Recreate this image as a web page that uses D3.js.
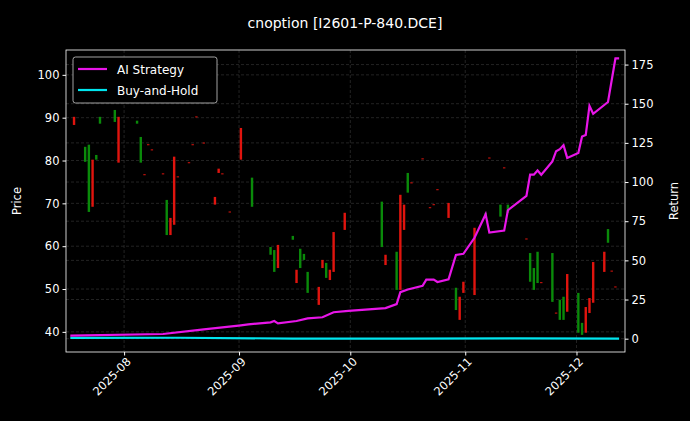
<!DOCTYPE html><html><head><meta charset="utf-8">
<script src="https://cdn.jsdelivr.net/npm/d3@7"></script>
<style>body{margin:0;background:#000}svg{font-family:"DejaVu Sans",sans-serif}</style></head><body>
<script>
// candles: date, open, close
const candleDates=["2025-07-18","2025-07-21","2025-07-22","2025-07-23","2025-07-24","2025-07-25","2025-07-29","2025-07-30","2025-08-04","2025-08-05","2025-08-06","2025-08-07","2025-08-08","2025-08-11","2025-08-12","2025-08-13","2025-08-14","2025-08-15","2025-08-18","2025-08-19","2025-08-20","2025-08-22","2025-08-25","2025-08-26","2025-08-27","2025-08-29","2025-09-01","2025-09-04","2025-09-09","2025-09-10","2025-09-11","2025-09-15","2025-09-16","2025-09-17","2025-09-18","2025-09-19","2025-09-22","2025-09-23","2025-09-24","2025-09-25","2025-09-26","2025-09-29","2025-10-09","2025-10-10","2025-10-13","2025-10-14","2025-10-15","2025-10-16","2025-10-17","2025-10-20","2025-10-22","2025-10-23","2025-10-24","2025-10-27","2025-10-29","2025-10-30","2025-10-31","2025-11-03","2025-11-06","2025-11-07","2025-11-10","2025-11-11","2025-11-12","2025-11-17","2025-11-18","2025-11-19","2025-11-20","2025-11-21","2025-11-24","2025-11-25","2025-11-26","2025-11-27","2025-11-28","2025-12-01","2025-12-02","2025-12-03","2025-12-04","2025-12-05","2025-12-08","2025-12-09","2025-12-10","2025-12-11"];
const candleOpen=[90.2,79.7,68.0,80.2,80.2,88.6,89.0,90.2,88.6,79.5,76.8,83.8,82.6,77.0,62.6,66.6,80.9,76.3,79.6,83.8,90.3,84.2,71.5,78.1,77.0,68.1,87.6,69.2,58.0,54.0,60.3,61.5,54.5,54.9,56.8,49.1,50.5,56.8,52.6,54.5,63.3,67.8,59.8,58.0,49.8,72.0,69.7,72.5,74.9,80.5,69.1,69.8,73.3,70.1,45.1,48.2,51.7,64.3,66.9,80.7,66.9,78.4,67.8,61.8,51.7,49.8,51.4,51.6,47.0,44.5,42.8,42.8,53.5,39.8,39.3,45.8,47.9,56.3,58.7,60.8,54.3,50.6];
const candleClose=[88.3,83.2,83.7,69.2,81.3,90.2,91.8,79.5,89.3,85.5,76.6,83.6,82.4,76.8,70.8,62.6,65.0,76.1,79.4,83.6,90.1,84.0,69.7,77.1,76.8,67.9,80.2,76.0,59.8,59.1,54.9,62.4,51.4,59.4,58.2,54.0,46.3,54.9,56.1,52.1,54.0,63.8,70.4,55.6,58.7,49.8,63.8,77.1,74.7,80.3,68.9,69.6,73.1,66.6,50.3,42.8,49.1,48.6,67.8,80.5,69.7,78.2,69.7,61.6,58.4,54.9,58.7,51.4,58.4,44.3,47.5,48.2,44.7,49.1,42.1,39.8,44.4,46.8,54.0,64.0,54.1,50.4];
// strategy return (%)
const stratDates=["2025-07-17","2025-08-11","2025-08-22","2025-09-01","2025-09-03","2025-09-09","2025-09-10","2025-09-11","2025-09-16","2025-09-19","2025-09-23","2025-09-26","2025-09-30","2025-10-10","2025-10-13","2025-10-14","2025-10-16","2025-10-20","2025-10-21","2025-10-23","2025-10-24","2025-10-27","2025-10-29","2025-10-31","2025-11-03","2025-11-06","2025-11-07","2025-11-11","2025-11-12","2025-11-17","2025-11-18","2025-11-19","2025-11-20","2025-11-21","2025-11-24","2025-11-25","2025-11-26","2025-11-27","2025-11-28","2025-12-01","2025-12-02","2025-12-03","2025-12-04","2025-12-05","2025-12-09","2025-12-11","2025-12-12"];
const stratValues=[2,3,5.9,8.5,9.1,10.4,11.3,9.8,11.3,13,13.7,16.9,17.8,19.5,22.1,29.7,31.4,33.8,37.7,37.7,36.2,37.9,53.5,54.2,64.4,79.4,67.7,69,82,91.1,104.7,104.7,107.4,104.7,113.2,119.7,121,123.6,115.4,118.6,129,130.1,148.6,143.6,151.1,178.9,178.9];
const bhDates=["2025-07-17","2025-08-15","2025-09-15","2025-10-15","2025-11-15","2025-12-12"];
const bhValues=[0.5,0.6,0.1,0,0.2,0];
const leftTicks=[40,50,60,70,80,90,100];
const rightTicks=[0,25,50,75,100,125,150,175];

const W=690,H=421,m={l:66,r:65,t:50,b:69};
const p=d3.timeParse("%Y-%m-%d");
const svg=d3.select("body").append("svg").attr("width",W).attr("height",H).style("background","#000");
const x=d3.scaleTime().domain([new Date(2025,6,16,8),new Date(2025,11,14,2)]).range([m.l,W-m.r]);
const y=d3.scaleLinear().domain([35.3,105.8]).range([H-m.b,m.t]);
const y2=d3.scaleLinear().domain([-8.5,184.3]).range([H-m.b,m.t]);
const g=svg.append("g");
const gs={stroke:"#3a3a3a",dash:"3,2",w:0.6};
leftTicks.forEach(t=>g.append("line").attr("x1",m.l).attr("x2",W-m.r).attr("y1",y(t)).attr("y2",y(t)).attr("stroke",gs.stroke).attr("stroke-dasharray",gs.dash).attr("stroke-width",gs.w));
rightTicks.forEach(t=>g.append("line").attr("x1",m.l).attr("x2",W-m.r).attr("y1",y2(t)).attr("y2",y2(t)).attr("stroke",gs.stroke).attr("stroke-dasharray",gs.dash).attr("stroke-width",gs.w));
const months=[new Date(2025,7,1),new Date(2025,8,1),new Date(2025,9,1),new Date(2025,10,1),new Date(2025,11,1)];
months.forEach(t=>g.append("line").attr("x1",x(t)).attr("x2",x(t)).attr("y1",m.t).attr("y2",H-m.b).attr("stroke",gs.stroke).attr("stroke-dasharray",gs.dash).attr("stroke-width",gs.w));
candleDates.forEach((d,i)=>{const o=candleOpen[i],c=candleClose[i];const t=p(d);t.setHours(12);
 const top=y(Math.max(o,c)),h=Math.max(1,Math.abs(y(o)-y(c)));
 g.append("rect").attr("x",x(t)-1.2).attr("width",2.4).attr("y",top).attr("height",h).attr("fill",c>o?"#0a8a0a":"#e0140e");});
const ls=d3.line().x(d=>x(d[0])).y(d=>y2(d[1]));
const sd=stratDates.map((d,i)=>{const t=p(d);t.setHours(12);return [t,stratValues[i]]});
const bd=bhDates.map((d,i)=>{const t=p(d);t.setHours(12);return [t,bhValues[i]]});
g.append("path").attr("d",ls(bd)).attr("fill","none").attr("stroke","#00e5ee").attr("stroke-width",2.2);
g.append("path").attr("d",ls(sd)).attr("fill","none").attr("stroke","#e815e8").attr("stroke-width",2.2);
svg.append("rect").attr("x",m.l).attr("y",m.t).attr("width",W-m.l-m.r).attr("height",H-m.t-m.b).attr("fill","none").attr("stroke","#fff").attr("stroke-width",0.8);
const ax=svg.append("g").attr("transform",`translate(0,${H-m.b})`).call(d3.axisBottom(x).tickValues(months).tickFormat(d3.timeFormat("%Y-%m")).tickSize(3.5));
const al=svg.append("g").attr("transform",`translate(${m.l},0)`).call(d3.axisLeft(y).tickValues(leftTicks).tickSize(3.5));
const ar=svg.append("g").attr("transform",`translate(${W-m.r},0)`).call(d3.axisRight(y2).tickValues(rightTicks).tickSize(3.5));
[ax,al,ar].forEach(a=>{a.select(".domain").remove();a.selectAll("line").attr("stroke","#fff");a.selectAll("text").attr("fill","#fff").style("font-size","11.5px").style("font-family","DejaVu Sans");});
ax.selectAll("text").attr("transform","rotate(-45)").style("text-anchor","end").attr("dx","-0.2em").attr("dy","0.5em");
svg.append("text").attr("x",345).attr("y",28).attr("text-anchor","middle").attr("fill","#fff").style("font-size","14px").text("cnoption [I2601-P-840.DCE]");
svg.append("text").attr("transform",`translate(21,${(m.t+H-m.b)/2}) rotate(-90)`).attr("text-anchor","middle").attr("fill","#fff").style("font-size","11.5px").text("Price");
svg.append("text").attr("transform",`translate(678,${(m.t+H-m.b)/2}) rotate(-90)`).attr("text-anchor","middle").attr("fill","#fff").style("font-size","11.5px").text("Return");
const lg=svg.append("g");
lg.append("rect").attr("x",73).attr("y",57).attr("width",144).attr("height",46).attr("rx",2.5).attr("fill","#000").attr("stroke","#ccc").attr("stroke-width",0.8);
[["AI Strategy","#e815e8"],["Buy-and-Hold","#00e5ee"]].forEach((e,i)=>{const yy=69+i*21;
 lg.append("line").attr("x1",78).attr("x2",107).attr("y1",yy).attr("y2",yy).attr("stroke",e[1]).attr("stroke-width",2.2);
 lg.append("text").attr("x",117).attr("y",yy+4.5).attr("fill","#fff").style("font-size","12px").text(e[0]);});
</script></body></html>
